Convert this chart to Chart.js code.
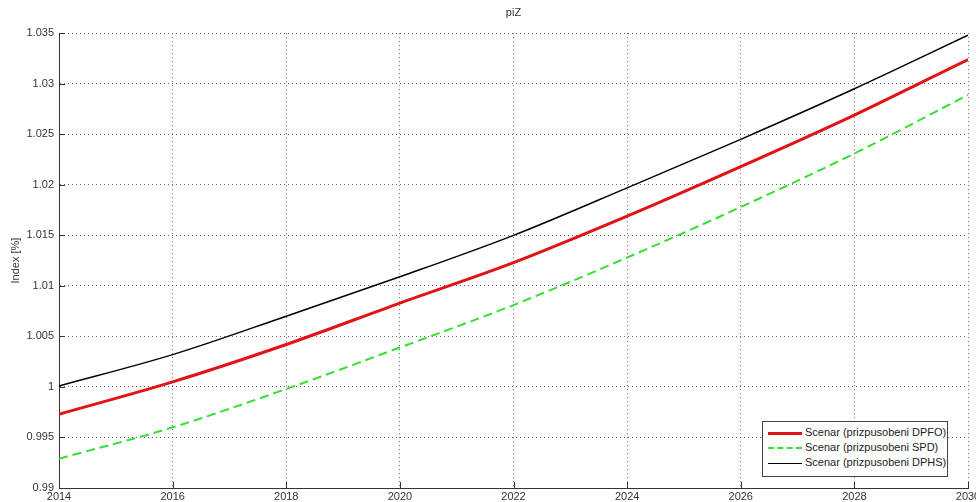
<!DOCTYPE html>
<html>
<head>
<meta charset="utf-8">
<script src="https://cdn.jsdelivr.net/npm/chart.js@4/dist/chart.umd.min.js"></script>
<style>
    body { margin: 0; background: #fff; }
    .wrap { position: relative; width: 976px; height: 502px; }
    #legend {
        position: absolute; left: 762px; top: 421px; width: 184px; height: 51px;
        border: 1px solid #444; background: #fff;
        font: 11px "Liberation Sans", Arial, sans-serif; color: #222;
        padding-top: 3px; box-sizing: content-box;
    }
    #legend div { height: 15px; line-height: 15px; white-space: nowrap; }
    #legend span.sample { display: inline-block; width: 34px; margin: 0 3px 0 5px; vertical-align: middle; }
</style>
</head>
<body>
<div class="wrap">
    <canvas id="piz_chart" width="976" height="502"></canvas>
    <div id="legend"></div>
</div>
<script type="text/javascript">
    var years = [2014, 2016, 2018, 2020, 2022, 2024, 2026, 2028, 2030];
    var dpfo = [0.9973, 1.0005, 1.0042, 1.0083, 1.0123, 1.0169, 1.0218, 1.0269, 1.0324];
    var spd  = [0.9929, 0.9960, 0.9998, 1.0039, 1.0081, 1.0128, 1.0178, 1.0231, 1.0289];
    var dphs = [1.0001, 1.0032, 1.0070, 1.0109, 1.0150, 1.0197, 1.0245, 1.0295, 1.0348];
    var names = ["Scenar (prizpusobeni DPFO)", "Scenar (prizpusobeni SPD)", "Scenar (prizpusobeni DPHS)"];

    function pts (vals) {
        return years.map(function (y, i) { return {x: y, y: vals[i]}; });
    }

    // MATLAB style tick marks drawn inside the axes
    var innerTicks = {
        id: "innerTicks",
        afterDraw: function (chart) {
            var ctx = chart.ctx, a = chart.chartArea;
            var xs = chart.scales.x, ys = chart.scales.y;
            ctx.save();
            ctx.strokeStyle = "#333";
            ctx.lineWidth = 1;
            ctx.beginPath();
            xs.ticks.forEach(function (t) {
                var px = Math.round(xs.getPixelForValue(t.value)) + 0.5;
                ctx.moveTo(px, a.bottom);
                ctx.lineTo(px, a.bottom - 6);
            });
            ys.ticks.forEach(function (t) {
                var py = Math.round(ys.getPixelForValue(t.value)) + 0.5;
                ctx.moveTo(a.left, py);
                ctx.lineTo(a.left + 6, py);
            });
            ctx.stroke();
            ctx.restore();
        }
    };

    var font = {family: "'Liberation Sans', Arial, sans-serif", size: 11};

    var chart = new Chart(document.getElementById("piz_chart").getContext("2d"), {
        type: "line",
        data: {
            datasets: [{
                label: names[0],
                data: pts(dpfo),
                borderColor: "#e01414",
                borderWidth: 3
            }, {
                label: names[1],
                data: pts(spd),
                borderColor: "#33e033",
                borderWidth: 2,
                borderDash: [9, 5]
            }, {
                label: names[2],
                data: pts(dphs),
                borderColor: "#000000",
                borderWidth: 1.5
            }]
        },
        options: {
            responsive: false,
            animation: false,
            layout: {padding: {left: 0, right: 8, top: 0, bottom: 0}},
            elements: {
                point: {radius: 0},
                line: {cubicInterpolationMode: "monotone", fill: false}
            },
            plugins: {
                legend: {display: false},
                tooltip: {enabled: false},
                title: {
                    display: true,
                    text: "piZ",
                    fullSize: false,
                    color: "#333",
                    font: {family: font.family, size: 11, weight: "normal"},
                    padding: {top: 6, bottom: 14}
                }
            },
            scales: {
                x: {
                    type: "linear",
                    min: 2014,
                    max: 2030,
                    ticks: {
                        stepSize: 2,
                        color: "#333",
                        font: font,
                        padding: 2,
                        maxRotation: 0,
                        callback: function (v) { return String(v); }
                    },
                    grid: {color: "#666", drawTicks: false},
                    border: {display: true, color: "#333", width: 1, dash: [1, 3]},
                    afterFit: function (s) {
                        s.height = 14;
                        s.paddingLeft = 0;
                        s.paddingRight = 0;
                    }
                },
                y: {
                    min: 0.99,
                    max: 1.035,
                    ticks: {
                        stepSize: 0.005,
                        color: "#333",
                        font: font,
                        padding: 5,
                        callback: function (v) { return String(Number(v.toFixed(3))); }
                    },
                    grid: {color: "#666", drawTicks: false},
                    border: {display: true, color: "#333", width: 1, dash: [1, 3]},
                    title: {
                        display: true,
                        text: "Index [%]",
                        color: "#333",
                        font: font,
                        padding: {top: 9, bottom: 4}
                    },
                    afterFit: function (s) {
                        s.width = 59;
                        s.paddingTop = 0;
                        s.paddingBottom = 0;
                    }
                }
            }
        },
        plugins: [innerTicks]
    });

    // legend in the lower right corner, built from the datasets
    var legend = document.getElementById("legend");
    chart.data.datasets.forEach(function (ds) {
        var row = document.createElement("div");
        var sample = document.createElement("span");
        sample.className = "sample";
        var style = ds.borderDash ? "dashed" : "solid";
        sample.style.borderTop = Math.max(ds.borderWidth, 1.5) + "px " + style + " " + ds.borderColor;
        row.appendChild(sample);
        row.appendChild(document.createTextNode(ds.label));
        legend.appendChild(row);
    });
</script>
</body>
</html>
